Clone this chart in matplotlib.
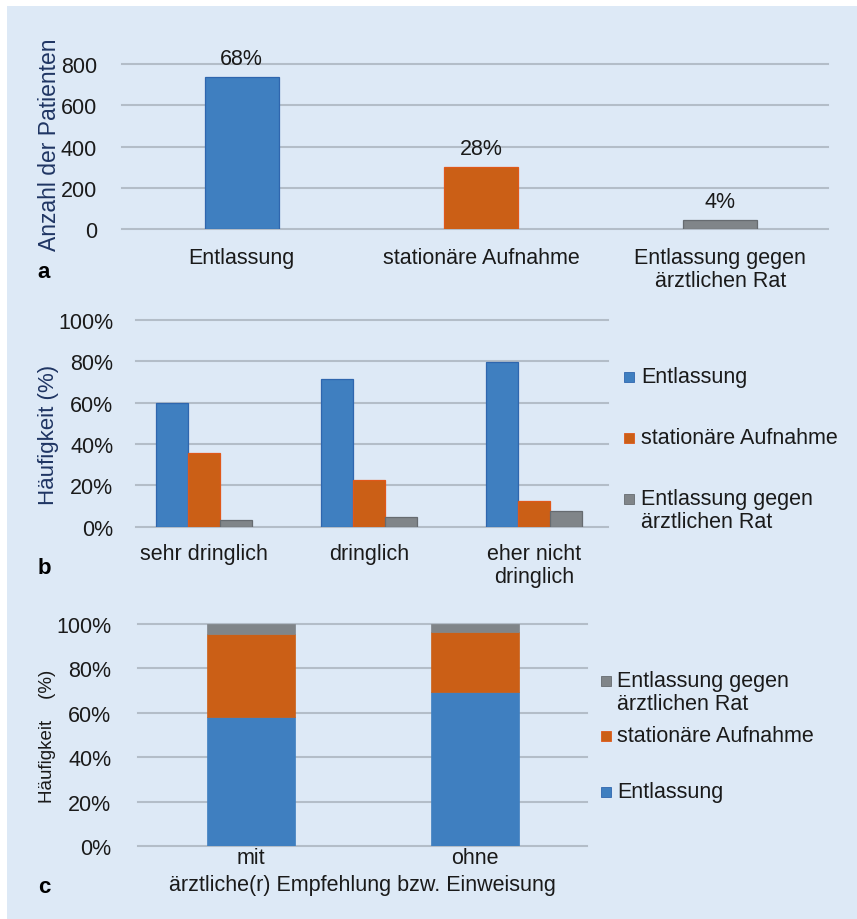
import matplotlib
matplotlib.use("Agg")
import matplotlib.pyplot as plt
from matplotlib.patches import Rectangle
import numpy as np

# ---- data ---------------------------------------------------------------
outcomes = ["Entlassung", "stationäre Aufnahme", "Entlassung gegen\närztlichen Rat"]
patients = [737, 300, 44]

urgency = ["sehr dringlich", "dringlich", "eher nicht\ndringlich"]
urg_entlassung = [60.0, 71.6, 79.5]
urg_stationaer = [35.8, 22.6, 12.6]
urg_gegen_rat = [3.2, 4.7, 7.7]

referral = ["mit", "ohne"]
ref_entlassung = [58.3, 69.2]
ref_stationaer = [37.2, 27.0]
ref_gegen_rat = [4.5, 3.8]

pct_ticks = [0, 20, 40, 60, 80, 100]
count_ticks = [0, 200, 400, 600, 800]

# ---- style --------------------------------------------------------------
W, H = 857, 920
BG = "#dde9f6"
BLUE, BLUE_E = "#3f7fc0", "#2f66ae"
ORANGE, ORANGE_E = "#cb5f16", "#e0581a"
GRAY, GRAY_E = "#808589", "#666b70"
GRID = "#b3bdc8"
TXT = "#1a1a1a"
YLAB = "#1f3563"
FS = 15.5

plt.rcParams["font.family"] = ["Liberation Sans", "DejaVu Sans"]
plt.rcParams["font.size"] = FS

fig = plt.figure(figsize=(W / 100, H / 100), dpi=100, facecolor="white")
fig.patches.append(Rectangle((7 / W, 0), 1 - 7 / W, 1 - 7 / H,
                             transform=fig.transFigure, facecolor=BG,
                             edgecolor="none", zorder=-10))


def px_axes(left, right, top, bottom):
    return fig.add_axes([left / W, 1 - bottom / H, (right - left) / W, (bottom - top) / H])


def style(ax):
    ax.set_facecolor("none")
    for s in ax.spines.values():
        s.set_visible(False)
    ax.tick_params(axis="both", length=0, colors=TXT, labelsize=FS)
    ax.yaxis.grid(True, color=GRID, linewidth=1.5)
    ax.set_axisbelow(True)
    for gl in ax.get_ygridlines():
        gl.set_clip_on(False)


def fx(x):
    return x / W


def fy(y):
    return 1 - y / H


def legend_entry(x, y, color, edge, text, gap=17):
    # square centred on the first text line, whose top sits at pixel row y
    fig.patches.append(Rectangle((fx(x), fy(y + 16)), 10 / W, 10 / H,
                                 transform=fig.transFigure, facecolor=color,
                                 edgecolor=edge, linewidth=0.6))
    fig.text(fx(x + gap), fy(y), text, ha="left", va="top", fontsize=FS,
             color=TXT, linespacing=1.1, transform=fig.transFigure)


# ---- panel a -------------------------------------------------------------
ax = px_axes(122, 828, 65, 230)
style(ax)
xa = np.arange(len(outcomes))
bars = ax.bar(xa, patients, width=0.31, color=[BLUE, ORANGE, GRAY],
              edgecolor=[BLUE_E, ORANGE_E, GRAY_E], linewidth=0.9)
total = sum(patients)
for b, v in zip(bars, patients):
    ax.annotate(f"{v / total:.0%}", (b.get_x() + b.get_width() / 2, v),
                xytext=(0, 6), textcoords="offset points", ha="center",
                va="bottom", fontsize=FS, color=TXT)
ax.set_xlim(-0.50, 2.45)
ax.set_ylim(0, 800)
ax.set_yticks(count_ticks)
ax.set_xticks(xa)
ax.set_xticklabels(outcomes, linespacing=1.1)
ax.tick_params(axis="x", pad=13)
ax.tick_params(axis="y", pad=18)
ax.set_ylabel("Anzahl der Patienten", color=YLAB, fontsize=16.5)
ax.yaxis.label.set_va("center")
ax.yaxis.set_label_coords(-0.102, 0.515)
fig.text(fx(44), fy(272), "a", fontweight="bold", fontsize=16, ha="center",
         va="center", color="black")

# ---- panel b -------------------------------------------------------------
ax = px_axes(135.5, 608, 321, 527.7)
style(ax)
xb = np.arange(len(urgency))
bw = 0.194
ax.bar(xb - bw, urg_entlassung, bw, color=BLUE, edgecolor=BLUE_E, linewidth=0.9)
ax.bar(xb, urg_stationaer, bw, color=ORANGE, edgecolor=ORANGE_E, linewidth=0.9)
ax.bar(xb + bw, urg_gegen_rat, bw, color=GRAY, edgecolor=GRAY_E, linewidth=0.9)
ax.set_xlim(-0.415, 2.448)
ax.set_ylim(0, 100)
ax.set_yticks(pct_ticks)
ax.set_yticklabels([f"{t}%" for t in pct_ticks])
ax.set_xticks(xb)
ax.set_xticklabels(urgency, linespacing=1.1)
ax.tick_params(axis="x", pad=12)
ax.tick_params(axis="y", pad=16)
ax.set_ylabel("Häufigkeit (%)", color=YLAB, fontsize=16)
ax.yaxis.label.set_va("center")
ax.yaxis.set_label_coords(-0.185, 0.45)
fig.text(fx(44), fy(568), "b", fontweight="bold", fontsize=16, ha="center",
         va="center", color="black")

legend_entry(624, 367, BLUE, BLUE_E, outcomes[0])
legend_entry(624, 428, ORANGE, ORANGE_E, outcomes[1])
legend_entry(624, 489, GRAY, GRAY_E, outcomes[2])

# ---- panel c -------------------------------------------------------------
ax = px_axes(137.7, 587.4, 625, 847)
style(ax)
xc = np.arange(len(referral))
cw = 0.395
ax.bar(xc, ref_entlassung, cw, color=BLUE, edgecolor=BLUE, linewidth=0.5)
ax.bar(xc, ref_stationaer, cw, bottom=ref_entlassung, color=ORANGE,
       edgecolor=ORANGE, linewidth=0.5)
ax.bar(xc, ref_gegen_rat, cw,
       bottom=np.add(ref_entlassung, ref_stationaer), color=GRAY,
       edgecolor=GRAY, linewidth=0.5)
ax.set_xlim(-0.506, 1.502)
ax.set_ylim(0, 100)
ax.set_yticks(pct_ticks)
ax.set_yticklabels([f"{t}%" for t in pct_ticks])
ax.set_xticks(xc)
ax.set_xticklabels(referral)
ax.tick_params(axis="x", pad=1)
ax.tick_params(axis="y", pad=19)
ax.set_xlabel("ärztliche(r) Empfehlung bzw. Einweisung", color=TXT,
              fontsize=FS, labelpad=4)
ax.set_ylabel("Häufigkeit    (%)", color=TXT, fontsize=13.5)
ax.yaxis.label.set_va("center")
ax.yaxis.set_label_coords(-0.2, 0.5)
fig.text(fx(44), fy(888), "c", fontweight="bold", fontsize=16, ha="center",
         va="center", color="black")

legend_entry(601, 671, GRAY, GRAY_E, outcomes[2], gap=16)
legend_entry(601, 726, ORANGE, ORANGE_E, outcomes[1], gap=16)
legend_entry(601, 782, BLUE, BLUE_E, outcomes[0], gap=16)

fig.savefig("out.png", dpi=100, facecolor="white")
